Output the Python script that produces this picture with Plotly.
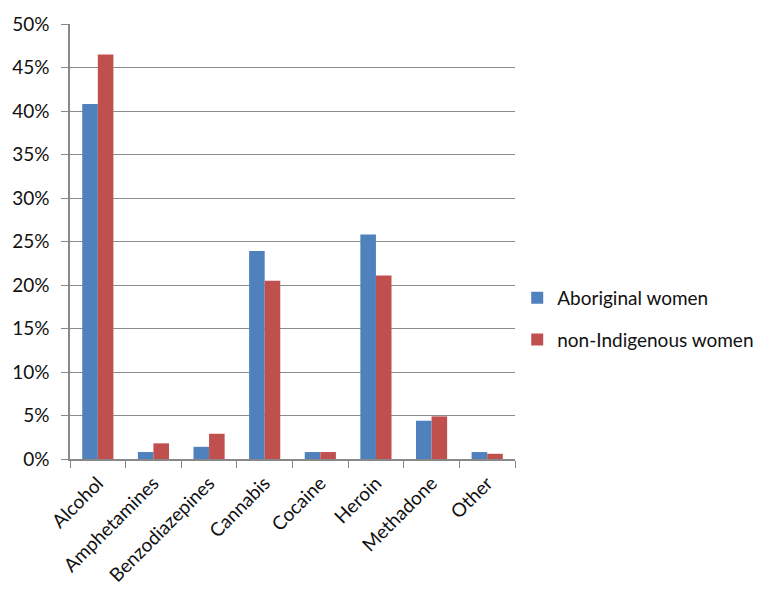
import plotly.graph_objects as go

categories = ["Alcohol", "Amphetamines", "Benzodiazepines", "Cannabis", "Cocaine", "Heroin", "Methadone", "Other"]
aboriginal = [40.8, 0.8, 1.4, 23.9, 0.8, 25.8, 4.4, 0.8]
non_indigenous = [46.5, 1.8, 2.9, 20.5, 0.8, 21.1, 4.9, 0.6]
series_names = ["Aboriginal women", "non-Indigenous women"]
y_ticks = [0, 5, 10, 15, 20, 25, 30, 35, 40, 45, 50]
y_tick_labels = [f"{v}%" for v in y_ticks]

font_family = "Lato, Open Sans, Liberation Sans, sans-serif"

fig = go.Figure()
fig.add_trace(go.Bar(x=categories, y=aboriginal, name=series_names[0],
                     marker=dict(color="#4F81BD", line=dict(width=0)),
                     legendgroup="a"))
fig.add_trace(go.Bar(x=categories, y=non_indigenous, name=series_names[1],
                     marker=dict(color="#C0504D", line=dict(width=0)),
                     legendgroup="b"))

fig.update_layout(
    width=771, height=607,
    margin=dict(l=70, r=255, t=20, b=148),
    paper_bgcolor="white", plot_bgcolor="white",
    barmode="group", bargap=0.44, bargroupgap=0,
    font=dict(family=font_family, size=19, color="#111111"),
    legend=dict(x=1.005, y=0.322, xanchor="left", yanchor="middle",
                font=dict(size=19), tracegroupgap=14, itemwidth=30,
                bgcolor="rgba(0,0,0,0)"),
    showlegend=True,
)
fig.update_xaxes(
    type="category", tickangle=-45,
    showline=True, linecolor="#888888", linewidth=1.5,
    ticks="outside", ticklen=7, tickcolor="#888888", tickson="boundaries",
    showgrid=False, tickfont=dict(size=19), ticklabelstandoff=4,
)
fig.update_yaxes(
    range=[0, 50], tickvals=y_ticks, ticktext=y_tick_labels,
    showline=True, linecolor="#888888", linewidth=1.5,
    ticks="outside", ticklen=7, tickcolor="#888888",
    showgrid=True, gridcolor="#8c8c8c", gridwidth=1.2,
    zeroline=False, tickfont=dict(size=19), ticklabelstandoff=8,
)

fig.write_html("out.html")
